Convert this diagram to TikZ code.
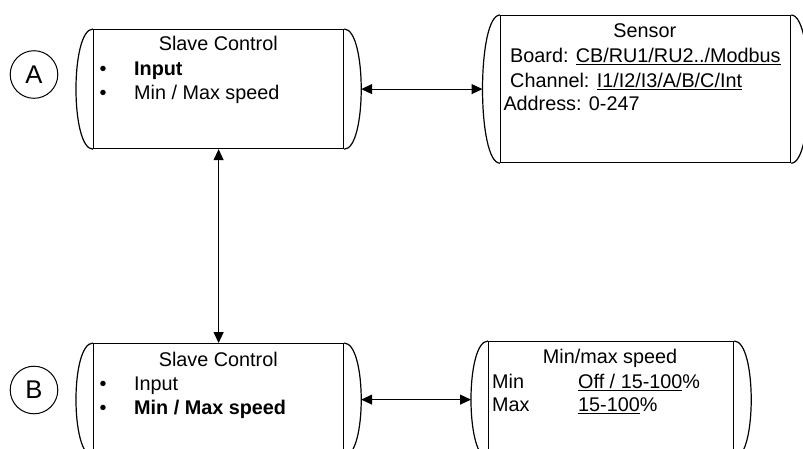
\documentclass[tikz,border=0pt]{standalone}
\usepackage{fontspec}
\setmainfont{Liberation Sans}
\usetikzlibrary{arrows.meta}
\newcommand\capsof[2]{%
  \draw[capline] (#1.north west) .. controls +(-#2,0) and +(-#2,0) .. (#1.south west);
  \draw[capline] (#1.north east) .. controls +(#2,0) and +(#2,0) .. (#1.south east);}
\begin{document}
\begin{tikzpicture}[x=1pt,y=-1pt,
  box/.style={draw, line width=1.2pt, rectangle, inner sep=0pt, anchor=north west},
  capline/.style={line width=1.2pt},
  txt/.style={inner sep=0pt, font=\fontsize{19.8}{24}\selectfont},
  lbl/.style={draw, circle, line width=1pt, minimum size=47.6pt, inner sep=0pt,
              font=\fontsize{25.6}{30}\selectfont},
  conn/.style={line width=1.2pt, {Triangle[length=11pt,width=10pt]}-{Triangle[length=11pt,width=10pt]}}]
\useasboundingbox (0,0) rectangle (803,448);
\clip (0,0) rectangle (803,448);

% boxes
\node[box, minimum width=250pt, minimum height=119pt] (A) at (93,29) {};
\node[box, minimum width=290pt, minimum height=147pt] (S) at (500,15) {};
\node[box, minimum width=250pt, minimum height=112pt] (B) at (93,343) {};
\node[box, minimum width=245pt, minimum height=116pt] (M) at (488,341) {};
\capsof{A}{22.7}
\capsof{S}{23.3}
\capsof{B}{22.7}
\capsof{M}{22.7}

% circle labels
\node[lbl] (LA) at (34,74.5) {A};
\node[lbl] (LB) at (34,390) {B};

% text of box A
\node[txt, anchor=base] (a1) at (218.3,50.7) {Slave Control};
\node[txt, anchor=base] (a2b) at (103,75) {\textbullet};
\node[txt, anchor=base west] (a2) at (134,75) {\textbf{Input}};
\node[txt, anchor=base] (a3b) at (103,99.3) {\textbullet};
\node[txt, anchor=base west] (a3) at (134,99.3) {Min / Max speed};

% text of sensor box
\node[txt, anchor=base] (s1) at (644.8,37.3) {Sensor};
\node[txt, anchor=base west] (s2) at (510,62.7) {Board: \underline{CB/RU1/RU2../Modbus}};
\node[txt, anchor=base west] (s3) at (510,87.3) {Channel: \underline{I1/I2/I3/A/B/C/Int}};
\node[txt, anchor=base west] (s4) at (503.3,110) {Address: 0-247};

% text of box B
\node[txt, anchor=base] (b1) at (218.3,366) {Slave Control};
\node[txt, anchor=base] (b2b) at (103,390) {\textbullet};
\node[txt, anchor=base west] (b2) at (134,390) {Input};
\node[txt, anchor=base] (b3b) at (103,414.3) {\textbullet};
\node[txt, anchor=base west] (b3) at (134,414.3) {\textbf{Min / Max speed}};

% text of min/max box
\node[txt, anchor=base] (m1) at (610,363.3) {Min/max speed};
\node[txt, anchor=base west] (m2) at (492,388.3) {Min};
\node[txt, anchor=base west] (m2v) at (578,388.3) {\underline{Off / 15-100}\%};
\node[txt, anchor=base west] (m3) at (492,411.7) {Max};
\node[txt, anchor=base west] (m3v) at (578,411.7) {\underline{15-100}\%};

% connectors
\coordinate (AR) at ([xshift=17pt]A.east);
\coordinate (SL) at ([xshift=-17.5pt]S.west);
\coordinate (BR) at ([xshift=17pt]B.east);
\coordinate (ML) at ([xshift=-17pt]M.west);
\draw[conn] (AR) -- (AR -| SL);
\draw[conn] (BR) -- (BR -| ML);
\draw[conn] (A.south) -- (B.north);
\end{tikzpicture}
\end{document}
